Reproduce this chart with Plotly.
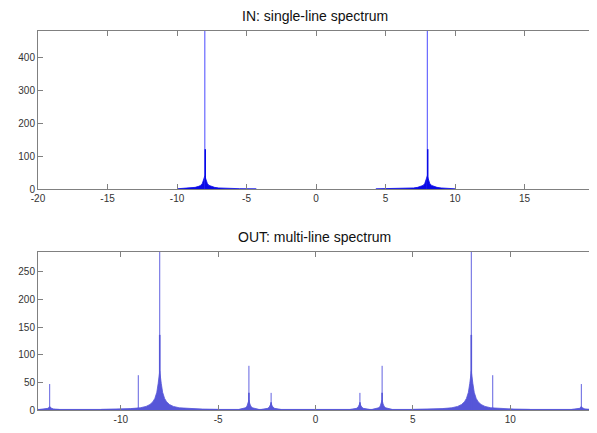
import plotly.graph_objects as go
from plotly.subplots import make_subplots

# ---------------- data ----------------
# IN: single-line spectrum
IN_CENTERS = [-8.0, 8.0]
IN_PEAK = [480, 480]
IN_SECOND = [121, 121]
IN_SKIRT_OFFSETS_LEFT = [-2.0, -1.5, -1.0, -0.7, -0.45, -0.3, -0.18, -0.1, -0.05, 0.0,
                         0.05, 0.1, 0.18, 0.3, 0.45, 0.7, 1.0, 1.6, 2.5, 3.7]
IN_SKIRT_OFFSETS_RIGHT = [-3.7, -2.5, -1.6, -1.0, -0.7, -0.45, -0.3, -0.18, -0.1, -0.05, 0.0,
                          0.05, 0.1, 0.18, 0.3, 0.45, 0.7, 1.0, 1.5, 2.0]
IN_SKIRT_HEIGHTS_LEFT = [0.6, 1.8, 3.2, 5, 8, 11, 17, 25, 33, 40,
                         33, 25, 17, 11, 8, 5, 3.2, 1.8, 1.0, 0.5]
IN_SKIRT_HEIGHTS_RIGHT = [0.5, 1.0, 1.8, 3.2, 5, 8, 11, 17, 25, 33, 40,
                          33, 25, 17, 11, 8, 5, 3.2, 1.8, 0.6]

# OUT: multi-line spectrum
OUT_CENTERS = [-13.65, -9.1, -8.0, -3.42, -2.28, 2.28, 3.42, 8.0, 9.1, 13.65]
OUT_PEAK = [47, 63, 292, 80, 31, 31, 80, 292, 63, 47]
OUT_SECOND = [6, 4, 136, 31, 14, 14, 31, 136, 4, 6]

OUT_BIG_OFFSETS = [-3.0, -2.2, -1.5, -1.0, -0.7, -0.5, -0.35, -0.25, -0.15, -0.08, 0.0,
                   0.08, 0.15, 0.25, 0.35, 0.5, 0.7, 1.0, 1.5, 2.2, 3.0]
OUT_BIG_HEIGHTS = [1.1, 1.6, 2.5, 4, 6.5, 10, 15, 21, 32, 48, 70,
                   48, 32, 21, 15, 10, 6.5, 4, 2.5, 1.6, 1.1]

OUT_SMALL_OFFSETS = [-0.5, -0.3, -0.18, -0.1, -0.05, 0.0, 0.05, 0.1, 0.18, 0.3, 0.5]
OUT_SMALL_HEIGHTS = {
    -13.65: [1, 1.5, 2, 3, 4, 6, 4, 3, 2, 1.5, 1],
    -9.1:   [1, 1.3, 1.6, 2, 2.5, 3, 2.5, 2, 1.6, 1.3, 1],
    -3.42:  [1.2, 2.5, 4, 7, 11, 18, 11, 7, 4, 2.5, 1.2],
    -2.28:  [1, 2, 3, 5, 8, 12, 8, 5, 3, 2, 1],
    2.28:   [1, 2, 3, 5, 8, 12, 8, 5, 3, 2, 1],
    3.42:   [1.2, 2.5, 4, 7, 11, 18, 11, 7, 4, 2.5, 1.2],
    9.1:    [1, 1.3, 1.6, 2, 2.5, 3, 2.5, 2, 1.6, 1.3, 1],
    13.65:  [1, 1.5, 2, 3, 4, 6, 4, 3, 2, 1.5, 1],
}
OUT_FLOOR = 1.0

IN_XTICKS = [-20, -15, -10, -5, 0, 5, 10, 15]
IN_XTICKTEXT = ["-20", "-15", "-10", "-5", "0", "5", "10", "15"]
IN_YTICKS = [0, 100, 200, 300, 400]
OUT_XTICKS = [-10, -5, 0, 5, 10]
OUT_XTICKTEXT = ["-10", "-5", "0", "5", "10"]
OUT_YTICKS = [0, 50, 100, 150, 200, 250]

IN_COLOR = "#0a0ae6"
OUT_COLOR = "#5656d8"

# ---------------- figure ----------------
fig = make_subplots(rows=2, cols=1)


def stems(freqs, amps):
    xs, ys = [], []
    for f, a in zip(freqs, amps):
        xs += [f, f, None]
        ys += [0, a, None]
    return xs, ys


def add_skirt(center, offsets, heights, color, row):
    fig.add_trace(go.Scatter(
        x=[center + o for o in offsets], y=heights, mode="lines",
        line=dict(color=color, width=0.8), fill="tozeroy", fillcolor=color,
        showlegend=False, hoverinfo="skip"), row=row, col=1)


# IN
add_skirt(IN_CENTERS[0], IN_SKIRT_OFFSETS_LEFT, IN_SKIRT_HEIGHTS_LEFT, IN_COLOR, 1)
add_skirt(IN_CENTERS[1], IN_SKIRT_OFFSETS_RIGHT, IN_SKIRT_HEIGHTS_RIGHT, IN_COLOR, 1)
sx, sy = stems(IN_CENTERS, IN_PEAK)
fig.add_trace(go.Scatter(x=sx, y=sy, mode="lines", line=dict(color="#4a4aff", width=1),
                         showlegend=False), row=1, col=1)
sx, sy = stems([c + 0.03 for c in IN_CENTERS], IN_SECOND)
fig.add_trace(go.Scatter(x=sx, y=sy, mode="lines", line=dict(color=IN_COLOR, width=1.5),
                         showlegend=False), row=1, col=1)

# OUT
fig.add_trace(go.Scatter(x=[-14.3, 14.3], y=[OUT_FLOOR, OUT_FLOOR], mode="lines",
                         line=dict(color=OUT_COLOR, width=1), fill="tozeroy",
                         fillcolor=OUT_COLOR, showlegend=False), row=2, col=1)
for c in OUT_CENTERS:
    if abs(c) == 8.0:
        add_skirt(c, OUT_BIG_OFFSETS, OUT_BIG_HEIGHTS, OUT_COLOR, 2)
    else:
        add_skirt(c, OUT_SMALL_OFFSETS, OUT_SMALL_HEIGHTS[c], OUT_COLOR, 2)
sx, sy = stems(OUT_CENTERS, OUT_PEAK)
fig.add_trace(go.Scatter(x=sx, y=sy, mode="lines", line=dict(color="#6262e0", width=1),
                         showlegend=False), row=2, col=1)
sx, sy = stems(OUT_CENTERS, OUT_SECOND)
fig.add_trace(go.Scatter(x=sx, y=sy, mode="lines", line=dict(color=OUT_COLOR, width=1.6),
                         showlegend=False), row=2, col=1)

axis_common = dict(showline=True, linecolor="#808080", linewidth=1, mirror="allticks",
                   ticks="inside", ticklen=5, tickcolor="#808080", showgrid=False,
                   zeroline=False, tickfont=dict(family="Liberation Sans, Arial", size=10,
                                                 color="#333333"))

fig.update_xaxes(range=[-20, 19.99], tickvals=IN_XTICKS, ticktext=IN_XTICKTEXT,
                 domain=[0, 1], row=1, col=1, **axis_common)
fig.update_yaxes(range=[0, 480], tickvals=IN_YTICKS, domain=[0.5831, 1], row=1, col=1,
                 **axis_common)
fig.update_xaxes(range=[-14.25, 14.3], tickvals=OUT_XTICKS, ticktext=OUT_XTICKTEXT,
                 domain=[0, 1], row=2, col=1, **axis_common)
fig.update_yaxes(range=[0, 286], tickvals=OUT_YTICKS, domain=[0, 0.4169], row=2, col=1,
                 **axis_common)

fig.add_annotation(text="IN: single-line spectrum", x=0.498, y=1, xref="paper", yref="paper",
                   yanchor="bottom", yshift=5, showarrow=False,
                   font=dict(family="Liberation Sans, Arial", size=14, color="#111111"))
fig.add_annotation(text="OUT: multi-line spectrum", x=0.498, y=0.4169, xref="paper",
                   yref="paper", yanchor="bottom", yshift=5, showarrow=False,
                   font=dict(family="Liberation Sans, Arial", size=14, color="#111111"))

# the page adds an 8 px body margin, so margins are offset to place the axes
fig.update_layout(width=597, height=433, margin=dict(l=27, r=10, t=23, b=31),
                  paper_bgcolor="white", plot_bgcolor="white", showlegend=False)

fig.write_html("out.html")
